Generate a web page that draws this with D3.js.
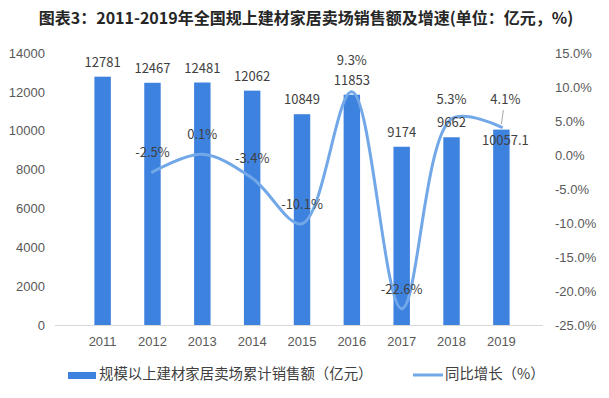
<!DOCTYPE html>
<html lang="zh">
<head>
    <meta charset="UTF-8">
    <title>建材家居卖场销售额</title>
    <style>
        body { margin: 0; background: #fff; }
        svg { display: block; font-family: "Noto Sans CJK SC", "Noto Sans", sans-serif; }
        .axis path, .axis line { display: none; }
        .axis text { fill: #595959; font-size: 13px; }
        .barLabel, .rateLabel { fill: #404040; font-size: 13px; text-anchor: middle; }
        .legend text { fill: #404040; font-size: 14.4px; }
    </style>
</head>
<body>
<svg></svg>
<script src="https://cdn.jsdelivr.net/npm/d3@7"></script>
<script>
    var years = ["2011","2012","2013","2014","2015","2016","2017","2018","2019"];
    var sales = [12781, 12467, 12481, 12062, 10849, 11853, 9174, 9662, 10057.1];
    var salesLabels = ["12781","12467","12481","12062","10849","11853","9174","9662","10057.1"];
    // 2011 没有增速数据
    var growth = [null, -2.5, 0.1, -3.4, -10.1, 9.3, -22.6, 5.3, 4.1];
    var leftTicks = [0, 2000, 4000, 6000, 8000, 10000, 12000, 14000];
    var rightTicks = [-25, -20, -15, -10, -5, 0, 5, 10, 15];

    var W = 609, H = 398;
    // 注意不要用 top 做变量名（window.top 只读）
    var pLeft = 61, pRight = 543, pTop = 53, pBottom = 325;

    var svg = d3.select('svg').attr('width', W).attr('height', H);

    //标题
    svg.append('text')
        .attr('x', 306).attr('y', 24)
        .attr('text-anchor', 'middle')
        .attr('font-size', 16).attr('font-weight', 'bold')
        .attr('fill', '#262626')
        .text('图表3：2011-2019年全国规上建材家居卖场销售额及增速(单位：亿元，%)');

    var xScale = d3.scaleBand().domain(years).range([pLeft, pRight]).padding(0.67);
    var yScale = d3.scaleLinear().domain([0, 14000]).range([pBottom, pTop]);
    var y2Scale = d3.scaleLinear().domain([-25, 15]).range([pBottom, pTop]);

    //坐标轴
    svg.append('g').attr('class', 'axis')
        .attr('transform', 'translate(' + (pLeft - 16) + ',0)')
        .call(d3.axisLeft(yScale).tickValues(leftTicks).tickSize(0).tickPadding(0)
            .tickFormat(d3.format('d')));

    svg.append('g').attr('class', 'axis')
        .attr('transform', 'translate(' + (pRight + 12) + ',0)')
        .call(d3.axisRight(y2Scale).tickValues(rightTicks).tickSize(0).tickPadding(0)
            .tickFormat(function (d) { return d.toFixed(1) + '%'; }));

    svg.append('g').attr('class', 'axis')
        .attr('transform', 'translate(0,' + (pBottom + 10) + ')')
        .call(d3.axisBottom(xScale).tickSize(0).tickPadding(2));

    svg.append('line')
        .attr('x1', pLeft - 6).attr('x2', pRight)
        .attr('y1', pBottom + 0.5).attr('y2', pBottom + 0.5)
        .attr('stroke', '#d9d9d9');

    //柱子
    svg.selectAll('.bar').data(sales).enter().append('rect')
        .attr('class', 'bar')
        .attr('x', function (d, i) { return xScale(years[i]); })
        .attr('y', function (d) { return yScale(d); })
        .attr('width', xScale.bandwidth())
        .attr('height', function (d) { return pBottom - yScale(d); })
        .attr('fill', '#3e82e0');

    //折线
    var pts = growth.map(function (d, i) { return { v: d, i: i }; })
        .filter(function (d) { return d.v !== null; });
    var cx = function (i) { return xScale(years[i]) + xScale.bandwidth() / 2; };

    var line = d3.line()
        .x(function (d) { return cx(d.i); })
        .y(function (d) { return y2Scale(d.v); })
        .curve(d3.curveCatmullRom.alpha(0.5));

    svg.append('path').datum(pts)
        .attr('d', line)
        .attr('fill', 'none')
        .attr('stroke', '#72a8e8')
        .attr('stroke-width', 3)
        .attr('stroke-linecap', 'round');

    //柱子数值
    svg.selectAll('.barLabel').data(sales).enter().append('text')
        .attr('class', 'barLabel')
        .attr('x', function (d, i) { return cx(i) + (i === 8 ? 4 : 0); })
        .attr('y', function (d, i) { return yScale(d) + (i === 8 ? 15 : -10); })
        .text(function (d, i) { return salesLabels[i]; });

    //增速数值
    svg.selectAll('.rateLabel').data(pts).enter().append('text')
        .attr('class', 'rateLabel')
        .attr('x', function (d) { return cx(d.i) + (d.i === 8 ? 4 : 0); })
        .attr('y', function (d) { return y2Scale(d.v) - (d.i === 5 ? 27 : 15) - (d.i === 8 ? 8 : 0); })
        .text(function (d) { return d.v.toFixed(1) + '%'; });

    // 2019 引导线
    var last = pts[pts.length - 1];
    svg.append('line')
        .attr('x1', cx(last.i) + 2).attr('y1', y2Scale(last.v) - 17)
        .attr('x2', cx(last.i)).attr('y2', y2Scale(last.v) - 3)
        .attr('stroke', '#a6a6a6').attr('stroke-width', 1);

    //图例
    var lg = svg.append('g').attr('class', 'legend');
    lg.append('rect').attr('x', 68).attr('y', 372).attr('width', 28).attr('height', 7).attr('fill', '#3e82e0');
    lg.append('text').attr('x', 99).attr('y', 379).text('规模以上建材家居卖场累计销售额（亿元）');
    lg.append('line').attr('x1', 413).attr('x2', 443).attr('y1', 375).attr('y2', 375)
        .attr('stroke', '#72a8e8').attr('stroke-width', 3);
    lg.append('text').attr('x', 445).attr('y', 379).text('同比增长（%）');
</script>
</body>
</html>
